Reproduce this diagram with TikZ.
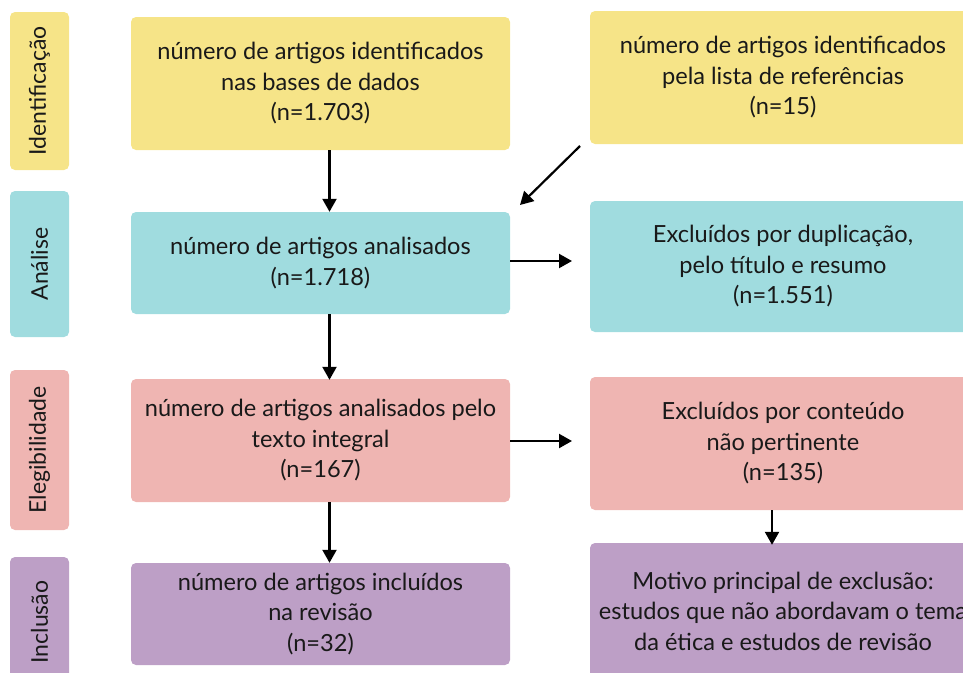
\documentclass[tikz,border=0pt]{standalone}
\usepackage{fontspec}
\setmainfont{Lato}
\usetikzlibrary{arrows.meta,calc}
\definecolor{cyel}{HTML}{F6E488}
\definecolor{ccya}{HTML}{A0DCDF}
\definecolor{cpnk}{HTML}{EFB5B2}
\definecolor{cpur}{HTML}{BD9FC6}
\tikzset{
  box/.style={rounded corners=5pt, inner sep=0pt, align=center, font=\fontsize{23.6}{30.5}\selectfont, text=black!90},
  cbox/.style={box, minimum width=379pt},
  rbox/.style={box, minimum width=386pt},
  lab/.style={box, minimum height=59pt, rotate=90, font=\fontsize{23}{26}\selectfont},
  arr/.style={line width=2.2pt, -{Triangle[length=13pt,width=14pt]}}
}
\begin{document}
\begin{tikzpicture}[x=1pt,y=-1pt]
\useasboundingbox (0,0) rectangle (963,672);
\clip (0,0) rectangle (963,672);
% left labels
\node[lab, fill=cyel, minimum width=158pt] (l1) at (39.5,91) {Identificação};
\node[lab, fill=ccya, minimum width=146pt] (l2) at (39.5,264) {Análise};
\node[lab, fill=cpnk, minimum width=160pt] (l3) at (39.5,450) {Elegibilidade};
\node[lab, fill=cpur, minimum width=130pt] (l4) at (39.5,622) {Inclusão};
% center column
\node[cbox, fill=cyel, minimum height=133pt] (b1) at (320.5,83.5) {número de artigos identificados\\nas bases de dados\\(n=1.703)};
\node[cbox, fill=ccya, minimum height=102pt] (b2) at (320.5,263) {número de artigos analisados\\(n=1.718)};
\node[cbox, fill=cpnk, minimum height=123pt] (b3) at (320.5,440.5) {número de artigos analisados pelo\\texto integral\\(n=167)};
\node[cbox, fill=cpur, minimum height=102pt] (b4) at (320.5,614) {número de artigos incluídos\\na revisão\\(n=32)};
% right column
\node[rbox, fill=cyel, minimum height=133pt] (r1) at (783,77.5) {número de artigos identificados\\pela lista de referências\\(n=15)};
\node[rbox, fill=ccya, minimum height=131pt] (r2) at (783,266.5) {Excluídos por duplicação,\\pelo título e resumo\\(n=1.551)};
\node[rbox, fill=cpnk, minimum height=133pt] (r3) at (783,443.5) {Excluídos por conteúdo\\não pertinente\\(n=135)};
\node[rbox, fill=cpur, minimum height=136pt] (r4) at (783,611) {Motivo principal de exclusão:\\estudos que não abordavam o tema\\da ética e estudos de revisão};
% connectors
\coordinate (ax) at (329.5,0);
\coordinate (bx) at (772,0);
\coordinate (ds) at (580,146);
\coordinate (de) at (520,205);
\coordinate (e2) at (572,261);
\coordinate (e3) at (572,441);
\draw[arr] (b1.south -| ax) -- (b2.north -| ax);
\draw[arr] (b2.south -| ax) -- ([yshift=-1pt]b3.north -| ax);
\draw[arr] (b3.south -| ax) -- (b4.north -| ax);
\draw[arr] (ds) -- (de);
\draw[arr] (b2.east |- e2) -- (e2);
\draw[arr] (b3.east |- e3) -- (e3);
\draw[arr] (r3.south -| bx) -- ([yshift=-2pt]r4.north -| bx);
\end{tikzpicture}
\end{document}
